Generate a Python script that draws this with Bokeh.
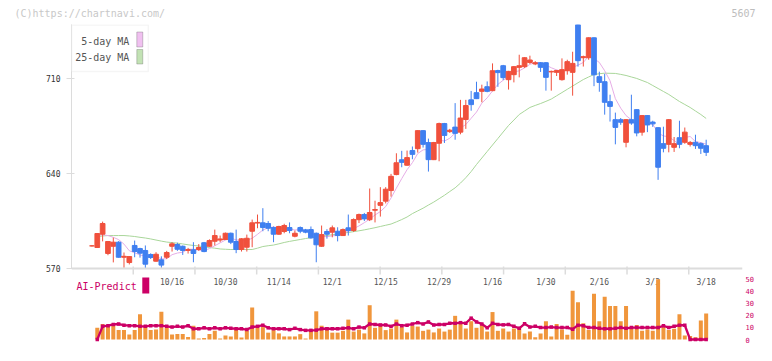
from bokeh.plotting import figure
from bokeh.models import (Range1d, LinearAxis, FixedTicker, ColumnDataSource,
                          Label, BoxAnnotation, Span)
from bokeh.embed import file_html
from bokeh.resources import INLINE
from bokeh.core.properties import value

nan = float("nan")

# ---------------- data ----------------
opens = [586.7, 585.5, 595.3, 581.1, 586.4, 589.4, 578.3, 574.4, 587.0, 584.7,
         583.3, 580.3, 575.4, 576.4, 578.3, 586.4, 587.7, 586.4, 583.3, 583.8,
         584.0, 589.0, 586.4, 590.1, 591.0, 591.4, 596.0, 589.9, 584.0, 585.7,
         597.5, 603.5, 603.7, 603.2, 600.2, 595.3, 597.3, 600.2, 593.8, 600.2,
         598.5, 598.7, 596.0, 586.4, 597.3, 596.8, 597.5, 594.3, 600.0, 598.0,
         606.0, 609.8, 606.0, 613.0, 616.6, 619.7, 627.5, 639.3, 650.2, 646.2,
         657.0, 658.4, 671.7, 662.9, 650.3, 662.4, 676.9, 671.0, 674.3, 670.6,
         679.9, 694.4, 699.7, 700.7, 704.1, 701.2, 716.0, 719.6, 709.3, 713.0,
         718.4, 718.9, 722.0, 720.9, 721.8, 721.8, 715.0, 714.7, 709.3, 715.9,
         714.7, 749.8, 725.5, 725.5, 740.2, 711.5, 707.8, 693.1, 679.8, 679.8,
         663.1, 679.8, 687.2, 670.6, 682.8, 678.0, 673.9, 662.1, 661.6, 659.4,
         666.5, 663.1, 661.6, 663.1, 662.1, 660.6]
highs = [587.2, 596.0, 604.6, 590.3, 592.8, 590.2, 581.8, 579.2, 590.6, 585.3,
         587.0, 581.2, 582.0, 579.0, 583.0, 589.4, 589.0, 587.0, 585.2, 589.4,
         588.0, 589.6, 591.5, 598.7, 594.3, 596.5, 596.5, 598.7, 592.4, 595.0,
         606.1, 609.8, 614.5, 605.0, 601.0, 601.5, 603.0, 604.0, 598.0, 601.0,
         599.2, 601.0, 596.5, 601.7, 599.0, 601.7, 600.4, 599.5, 609.8, 607.0,
         610.5, 611.0, 629.0, 620.0, 630.0, 630.0, 639.8, 655.0, 656.8, 657.0,
         660.0, 672.0, 672.0, 665.8, 663.4, 677.6, 677.4, 673.0, 692.0, 694.4,
         694.4, 701.0, 707.8, 705.6, 708.0, 721.3, 716.6, 720.2, 715.8, 719.4,
         727.7, 725.8, 727.0, 723.0, 722.3, 722.3, 716.0, 716.5, 725.0, 724.0,
         729.9, 750.0, 727.0, 740.5, 740.5, 715.2, 713.6, 698.2, 685.0, 681.0,
         680.2, 698.2, 687.5, 683.2, 683.2, 679.0, 674.2, 674.6, 680.2, 667.0,
         679.0, 674.0, 664.0, 668.7, 663.0, 665.0]
lows = [586.2, 585.2, 590.0, 579.8, 574.5, 578.0, 570.5, 573.0, 578.3, 578.0,
        570.2, 577.0, 575.0, 570.5, 577.0, 582.5, 583.0, 580.0, 581.0, 574.6,
        583.0, 582.0, 586.0, 587.0, 589.4, 591.0, 588.0, 581.3, 582.5, 582.5,
        585.7, 599.7, 597.5, 597.5, 589.4, 595.0, 596.0, 596.0, 593.0, 596.0,
        596.0, 592.0, 574.6, 586.0, 592.0, 593.0, 590.0, 594.0, 594.3, 597.0,
        603.5, 605.0, 605.0, 604.0, 608.3, 618.0, 623.0, 638.8, 644.7, 645.8,
        650.6, 655.5, 659.2, 641.5, 650.0, 649.1, 662.6, 670.0, 665.0, 669.0,
        673.0, 686.4, 695.0, 692.6, 700.0, 700.8, 704.0, 709.0, 702.0, 707.3,
        711.0, 718.0, 720.9, 720.0, 715.0, 701.2, 701.2, 712.0, 708.6, 713.0,
        697.5, 718.9, 719.0, 724.0, 704.5, 700.4, 683.5, 678.4, 661.6, 676.0,
        659.4, 676.0, 667.5, 668.0, 670.6, 674.5, 635.4, 655.7, 655.7, 656.0,
        658.7, 662.0, 660.0, 658.2, 654.5, 653.0]
closes = [586.7, 595.8, 603.2, 589.9, 589.4, 578.3, 579.0, 578.8, 582.5, 581.3,
          573.2, 578.1, 580.5, 572.5, 581.8, 588.2, 584.2, 583.3, 584.0, 581.1,
          585.5, 582.5, 590.6, 594.3, 591.8, 596.0, 589.4, 584.0, 591.9, 592.3,
          603.7, 604.0, 600.2, 599.7, 595.3, 601.0, 601.7, 598.0, 596.0, 597.5,
          596.8, 592.6, 587.5, 595.0, 595.3, 600.0, 594.3, 598.7, 598.0, 606.1,
          609.8, 606.6, 611.3, 613.5, 618.6, 628.5, 638.0, 648.0, 648.3, 651.8,
          654.2, 671.7, 661.6, 650.3, 662.9, 676.9, 668.2, 672.0, 669.7, 681.0,
          690.2, 690.9, 695.3, 702.4, 700.7, 715.9, 714.5, 710.8, 715.4, 718.9,
          719.6, 725.5, 723.8, 721.8, 718.4, 711.0, 715.4, 716.0, 716.7, 722.6,
          721.3, 723.3, 726.3, 740.2, 712.9, 707.3, 692.6, 689.6, 674.1, 677.9,
          679.8, 677.3, 670.0, 682.8, 675.9, 676.7, 644.7, 658.7, 679.8, 662.1,
          661.6, 670.6, 663.0, 660.6, 658.7, 655.7]
ma5 = [nan, 594.8, 594.8, 594.3, 593.0, 591.3, 588.0, 583.1, 581.6, 580.0,
       579.0, 578.8, 579.1, 577.1, 577.2, 580.2, 581.4, 582.0, 584.3, 584.2,
       583.6, 583.3, 584.7, 586.8, 588.9, 591.0, 592.4, 591.1, 590.6, 590.7,
       592.3, 595.2, 598.4, 600.0, 600.6, 600.0, 599.6, 599.1, 598.4, 598.8,
       598.0, 596.2, 594.1, 593.9, 593.4, 594.1, 594.4, 596.7, 597.3, 599.4,
       601.4, 603.8, 606.4, 609.5, 612.0, 615.7, 622.0, 629.3, 636.3, 642.9,
       648.1, 654.8, 657.5, 657.9, 660.1, 664.7, 664.0, 666.1, 669.9, 673.6,
       676.2, 680.8, 685.4, 692.0, 695.9, 701.0, 705.8, 708.9, 711.5, 715.1,
       715.8, 718.0, 720.6, 721.9, 721.8, 720.1, 718.1, 716.5, 715.5, 716.3,
       718.4, 720.0, 722.0, 726.7, 724.8, 722.0, 715.9, 708.5, 695.3, 688.3,
       682.8, 679.7, 675.8, 677.6, 677.2, 676.5, 670.0, 667.8, 667.2, 664.4,
       661.4, 666.6, 667.4, 663.6, 662.9, 661.7]
ma25 = [nan, 593.6, 594.0, 594.3, 594.3, 594.3, 594.3, 594.0, 593.6, 593.0,
        592.5, 591.8, 591.0, 590.2, 589.5, 589.1, 588.7, 588.1, 587.5, 587.0,
        586.6, 586.0, 585.5, 585.0, 584.4, 584.2, 584.0, 584.0, 584.0, 584.0,
        584.0, 585.0, 586.2, 586.8, 587.3, 588.2, 589.2, 590.0, 590.7, 591.4,
        592.1, 592.7, 593.2, 593.8, 594.3, 594.9, 595.4, 596.0, 596.6, 597.2,
        597.8, 598.5, 599.3, 600.1, 601.0, 601.9, 602.8, 604.4, 606.1, 608.0,
        610.5, 612.5, 614.5, 616.8, 619.0, 621.5, 624.0, 626.8, 629.5, 633.0,
        637.0, 641.5, 646.7, 651.5, 656.3, 661.1, 665.9, 670.7, 675.5, 679.5,
        683.6, 686.2, 688.8, 690.3, 691.7, 693.3, 695.0, 697.4, 699.8, 702.2,
        704.6, 707.0, 709.4, 711.3, 713.1, 713.7, 714.1, 714.0, 713.9, 713.2,
        712.4, 711.3, 710.2, 708.7, 707.2, 705.0, 702.8, 700.6, 698.4, 695.8,
        693.2, 691.0, 688.8, 686.2, 683.6, 680.7]
volume = [0.0, 9.6, 12.7, 11.3, 11.3, 7.7, 7.7, 4.0, 7.7, 20.6,
          11.3, 7.7, 8.1, 22.7, 9.6, 4.0, 4.6, 4.6, 2.1, 11.3,
          0.8, 1.3, 4.6, 7.1, 0.8, 3.3, 2.5, 7.7, 1.7, 7.1,
          26.3, 10.8, 10.2, 5.6, 7.7, 5.0, 2.5, 2.5, 2.5, 4.4,
          0.8, 7.1, 23.1, 11.3, 10.2, 5.6, 5.6, 7.1, 16.3, 6.5,
          8.1, 5.0, 28.1, 9.6, 11.3, 7.7, 9.0, 16.3, 10.2, 5.8,
          11.3, 10.6, 7.1, 8.1, 5.8, 9.0, 6.5, 8.1, 19.4, 12.7,
          9.0, 15.0, 9.6, 12.7, 6.5, 22.5, 7.1, 9.0, 6.5, 9.0,
          10.2, 5.0, 6.5, 1.9, 5.0, 15.0, 2.5, 12.7, 8.1, 3.8,
          40.0, 30.6, 13.3, 7.7, 37.5, 15.0, 35.0, 27.5, 27.5, 15.0,
          27.5, 9.2, 11.9, 7.1, 8.1, 7.1, 49.4, 10.2, 7.7, 8.8,
          20.6, 3.3, 2.9, 1.9, 15.6, 21.3]
ai_predict = [nan, 0.0, 10.8, 11.3, 12.3, 12.7, 11.7, 11.3, 11.3, 10.8,
              10.8, 11.3, 11.3, 11.3, 10.8, 10.2, 10.8, 10.2, 11.3, 8.8,
              8.8, 9.6, 8.8, 9.6, 8.8, 9.6, 9.2, 8.8, 8.8, 8.1,
              10.2, 10.8, 11.7, 9.6, 8.8, 8.8, 8.8, 8.1, 9.2, 8.1,
              7.5, 7.5, 7.7, 8.8, 8.8, 8.8, 8.8, 9.2, 9.6, 8.8,
              10.2, 9.6, 12.7, 12.3, 11.9, 11.9, 10.8, 12.7, 11.3, 11.7,
              12.7, 13.8, 12.7, 14.4, 11.9, 12.3, 12.3, 13.3, 13.3, 13.8,
              13.3, 17.5, 14.4, 12.7, 9.6, 13.3, 12.3, 12.0, 12.3, 10.8,
              9.2, 12.9, 10.2, 10.8, 9.8, 9.8, 10.2, 9.8, 9.8, 9.8,
              8.5, 11.7, 11.3, 9.8, 9.8, 9.2, 8.8, 8.8, 9.2, 9.8,
              9.2, 9.8, 9.8, 9.8, 9.8, 9.8, 9.8, 11.3, 9.8, 10.8,
              11.7, 11.7, 0.0, 0.0, 0.0, 0.0]
date_labels = ["10/16", "10/30", "11/14", "12/1", "12/15", "12/29",
               "1/16", "1/30", "2/16", "3/3", "3/18"]
date_label_idx = [15, 25, 35, 45, 55, 65, 75, 85, 95, 105, 115]
price_ticks = [570, 640, 710]
vol_ticks = [0, 10, 20, 30, 40, 50]
header_texts = ["(C)https://chartnavi.com/", "5607"]

# ---------------- layout constants (page pixels) ----------------
W, H = 756, 345
FL, FR = 71, 744             # frame left/right
FT, FB = 24, 345             # frame top/bottom
CX0, CSTEP = 91.5, 5.357     # page x of first candle, px per candle
X0 = (FL - CX0) / CSTEP
X1 = (FR - CX0) / CSTEP
AX_END = (752 - CX0) / CSTEP  # right end of the drawn date axis
P_MIN, P_MAX = 570, 750
P_AXIS_PX = 268
PX_P = (P_AXIS_PX - FT) / (P_MAX - P_MIN)
Y_LO = P_MIN - (FB - P_AXIS_PX) / PX_P
V0_PX, V50_PX = 339, 278
PX_V = (V0_PX - V50_PX) / 50.0
V_LO = -(FB - V0_PX) / PX_V
V_HI = (V0_PX - FT) / PX_V
STACK_SHIFT = 11.0           # second label in the "above" panel sits one slot higher


def px2x(px):
    return X0 + (px - FL) / CSTEP


def px2y(py):
    return P_MAX - (py - FT) / PX_P


MONO = "DejaVu Sans Mono"
RED = "#f0503c"
BLUE = "#3f7ff0"

n = len(closes)
idx = list(range(n))
colors = [RED if c >= o else BLUE for o, c in zip(opens, closes)]
src = ColumnDataSource(dict(
    x=idx, h=highs, l=lows,
    top=[max(o, c) for o, c in zip(opens, closes)],
    bot=[min(o, c) for o, c in zip(opens, closes)],
    color=colors))

p = figure(width=W, height=H, x_range=Range1d(X0, X1), y_range=Range1d(Y_LO, P_MAX),
           output_backend="svg", toolbar_location=None,
           x_axis_location=None, y_axis_location=None,
           min_border_left=FL, min_border_right=W - FR,
           min_border_top=FT, min_border_bottom=0,
           outline_line_color=None, background_fill_color="white",
           border_fill_color="white")
p.grid.grid_line_color = None
p.extra_y_ranges = {"vol": Range1d(V_LO, V_HI)}

# header texts, placed in the panel above the frame (screen units)
p.add_layout(Label(x=14 - FL, y=FT - 12.5, x_units="screen", y_units="screen",
                   text=header_texts[0], text_baseline="middle", text_font=MONO,
                   text_font_size="10px", text_color="#c8c8c8"), "above")
p.add_layout(Label(x=755 - FL, y=FT - 12.5 - STACK_SHIFT, x_units="screen", y_units="screen",
                   text=header_texts[1], text_baseline="middle", text_align="right",
                   text_font=MONO, text_font_size="10px", text_color="#bdbdbd"), "above")

yaxis = LinearAxis(ticker=FixedTicker(ticks=price_ticks), bounds=(P_MIN, P_MAX),
                   axis_line_color="#dcdcdc", axis_line_width=1,
                   major_tick_line_color="#dcdcdc", major_tick_out=5, major_tick_in=3,
                   minor_tick_line_color=None,
                   major_label_text_font=MONO, major_label_text_font_size="8px",
                   major_label_text_color="#333333", major_label_standoff=6)
p.add_layout(yaxis, "left")

vaxis = LinearAxis(y_range_name="vol", ticker=FixedTicker(ticks=vol_ticks),
                   axis_line_color=None, major_tick_line_color=None,
                   minor_tick_line_color=None, major_tick_out=0, major_tick_in=0,
                   major_label_text_font=MONO, major_label_text_font_size="7px",
                   major_label_text_color="#cc0066", major_label_standoff=3)
p.add_layout(vaxis, "right")

# date axis drawn inside the frame
p.add_layout(Span(location=P_MIN, dimension="width", line_color="#dcdcdc", line_width=2))
xticks = [X0 + k * (AX_END - X0) / 11 for k in range(1, 11)]
p.segment(x0=xticks, y0=[px2y(P_AXIS_PX - 2)] * len(xticks),
          x1=xticks, y1=[px2y(P_AXIS_PX + 6)] * len(xticks),
          line_color="#dcdcdc", line_width=1.5)
p.text(x=date_label_idx, y=[px2y(P_AXIS_PX + 14)] * len(date_labels), text=date_labels,
       text_font=value(MONO), text_font_size="8px", text_color="#555555",
       text_align="center", text_baseline="middle")

# moving averages
p.line(idx, ma25, line_color="#a9d69a", line_width=1)
p.line(idx, ma5, line_color="#e6ade6", line_width=1)

# candles
p.segment(x0="x", y0="h", x1="x", y1="l", source=src, line_color="color", line_width=1)
p.vbar(x="x", top="top", bottom="bot", width=0.88, source=src,
       fill_color="color", line_color="color", line_width=1)

# volume bars and AI-Predict line
p.vbar(x=idx, top=volume, bottom=0, width=0.75, y_range_name="vol",
       fill_color="#f0963c", line_color=None)
p.line(idx, ai_predict, y_range_name="vol", line_color="#cc0066", line_width=2.3)
p.scatter(idx, ai_predict, y_range_name="vol", marker="square", size=3.5,
          fill_color="#cc0066", line_color=None)

# legend box
p.add_layout(BoxAnnotation(left=px2x(71), right=px2x(148), top=px2y(24.5), bottom=px2y(71),
                           fill_color="white", fill_alpha=1.0,
                           line_color="#dddddd", line_width=1.5))
p.add_layout(Label(x=px2x(129), y=px2y(40.5), text="5-day MA", text_align="right",
                   text_baseline="middle", text_font=MONO, text_font_size="10px",
                   text_color="#555555"))
p.add_layout(Label(x=px2x(129), y=px2y(56.7), text="25-day MA", text_align="right",
                   text_baseline="middle", text_font=MONO, text_font_size="10px",
                   text_color="#555555"))
p.add_layout(BoxAnnotation(left=px2x(136.5), right=px2x(142.5), top=px2y(31.5),
                           bottom=px2y(46.5), fill_color="#f0c0f0", fill_alpha=1.0,
                           line_color="#555555", line_width=1))
p.add_layout(BoxAnnotation(left=px2x(136.5), right=px2x(142.5), top=px2y(49),
                           bottom=px2y(63.5), fill_color="#c2e2b4", fill_alpha=1.0,
                           line_color="#555555", line_width=1))

# AI-Predict caption
p.add_layout(Label(x=px2x(76), y=px2y(286), text="AI-Predict", text_baseline="middle",
                   text_font=MONO, text_font_size="10px", text_color="#cc0066"))
p.add_layout(BoxAnnotation(left=px2x(142), right=px2x(149), top=px2y(277),
                           bottom=px2y(293), fill_color="#cc0066", fill_alpha=1.0,
                           line_color=None))

open("out.html", "w").write(file_html(p, INLINE))
